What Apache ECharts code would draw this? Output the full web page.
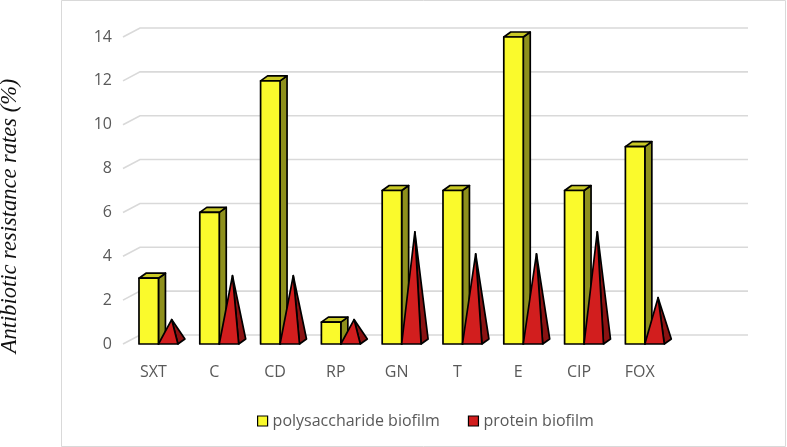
<!DOCTYPE html>
<html>
<head>
<meta charset="utf-8">
<script src="https://cdn.jsdelivr.net/npm/echarts@6/dist/echarts.min.js"></script>
<style>
  html, body { margin: 0; padding: 0; background: #fff; }
  #main { width: 787px; height: 447px; }
</style>
</head>
<body>
<div id="main"></div>
<script>
// categories (last one is the empty slot Excel leaves on the right)
const categories = ['SXT', 'C', 'CD', 'RP', 'GN', 'T', 'E', 'CIP', 'FOX', ''];
// antibiotic resistance rates (%)
const polysaccharide = [3, 6, 12, 1, 7, 7, 14, 7, 9];
const protein = [1, 3, 3, 1, 5, 4, 4, 5, 2];
const yTicks = [0, 2, 4, 6, 8, 10, 12, 14];

// depth of the fake 3d
const WALL_DX = 17, WALL_DY = -9;
const BAR_DX = 7, BAR_DY = -5;

const chart = echarts.init(document.getElementById('main'));

// back wall gridlines + the little diagonals on the left side
function renderWall(params, api) {
  const cs = params.coordSys;
  const y = api.coord([0, api.value(1)])[1];
  return {
    type: 'polyline',
    shape: { points: [[cs.x, y], [cs.x + WALL_DX, y + WALL_DY], [cs.x + cs.width + WALL_DX, y + WALL_DY]] },
    style: { stroke: '#d9d9d9', lineWidth: 1.6, fill: null }
  };
}

function barBox(api) {
  const idx = api.value(0);
  const base = api.coord([idx, 0]);
  const top = api.coord([idx, api.value(1)]);
  const bw = api.size([1, 0])[0];
  const x0 = base[0] - bw / 2 + bw * 0.263;
  const w = bw * 0.32;
  return { x0: x0, w: w, yb: base[1], yt: top[1] };
}

function renderBar(params, api) {
  const b = barBox(api);
  const line = { stroke: '#000', lineWidth: 1.7, lineJoin: 'round' };
  return {
    type: 'group',
    children: [
      { type: 'polygon', shape: { points: [[b.x0 + b.w, b.yb], [b.x0 + b.w + BAR_DX, b.yb + BAR_DY], [b.x0 + b.w + BAR_DX, b.yt + BAR_DY], [b.x0 + b.w, b.yt]] },
        style: Object.assign({ fill: '#8e901c' }, line) },
      { type: 'polygon', shape: { points: [[b.x0, b.yt], [b.x0 + BAR_DX, b.yt + BAR_DY], [b.x0 + b.w + BAR_DX, b.yt + BAR_DY], [b.x0 + b.w, b.yt]] },
        style: Object.assign({ fill: '#c9c925' }, line) },
      { type: 'rect', shape: { x: b.x0, y: b.yt, width: b.w, height: b.yb - b.yt },
        style: Object.assign({ fill: '#fafa2c' }, line) }
    ]
  };
}

function renderPyramid(params, api) {
  const b = barBox(api);
  const x0 = b.x0 + b.w; // sits right next to the yellow bar
  const w = b.w;
  const apex = [x0 + w / 2 + BAR_DX / 2, b.yt + BAR_DY / 2];
  const line = { stroke: '#000', lineWidth: 1.7, lineJoin: 'round' };
  return {
    type: 'group',
    children: [
      { type: 'polygon', shape: { points: [[x0 + w, b.yb], [x0 + w + BAR_DX, b.yb + BAR_DY], apex] },
        style: Object.assign({ fill: '#8a1212' }, line) },
      { type: 'polygon', shape: { points: [[x0, b.yb], [x0 + w, b.yb], apex] },
        style: Object.assign({ fill: '#d21e1e' }, line) }
    ]
  };
}

const axisText = { color: '#595959', fontSize: 16, fontFamily: 'Open Sans' };

const option = {
  animation: false,
  backgroundColor: '#fff',
  grid: { left: 123, right: 56, top: 37, bottom: 103 },
  xAxis: {
    type: 'category',
    data: categories,
    axisLine: { show: false },
    axisTick: { show: false },
    axisLabel: Object.assign({ margin: 20, interval: 0 }, axisText)
  },
  yAxis: {
    type: 'value',
    min: 0,
    max: 14,
    interval: 2,
    axisLine: { show: false },
    axisTick: { show: false },
    splitLine: { show: false },
    axisLabel: Object.assign({ margin: 11 }, axisText)
  },
  legend: {
    left: 252,
    top: 408,
    itemWidth: 10,
    itemHeight: 10,
    itemGap: 28,
    icon: 'rect',
    itemStyle: { borderColor: '#000', borderWidth: 1.2 },
    textStyle: axisText,
    data: ['polysaccharide biofilm', 'protein biofilm']
  },
  graphic: [
    { type: 'rect', shape: { x: 61.5, y: 0.5, width: 724, height: 446 },
      style: { fill: null, stroke: '#d9d9d9', lineWidth: 1 }, silent: true },
    { type: 'text', x: 10, y: 216, rotation: Math.PI / 2,
      style: { text: 'Antibiotic resistance rates (%)', fill: '#111', font: 'italic 22.5px "Liberation Serif"',
               align: 'center', verticalAlign: 'middle' } }
  ],
  series: [
    {
      type: 'custom',
      name: 'walls',
      silent: true,
      z: 1,
      renderItem: renderWall,
      data: yTicks.map(v => [0, v])
    },
    {
      type: 'custom',
      name: 'polysaccharide biofilm',
      z: 2,
      itemStyle: { color: '#fafa2c' },
      renderItem: renderBar,
      data: polysaccharide.map((v, i) => [i, v])
    },
    {
      type: 'custom',
      name: 'protein biofilm',
      z: 3,
      itemStyle: { color: '#d21e1e' },
      renderItem: renderPyramid,
      data: protein.map((v, i) => [i, v])
    }
  ]
};

chart.setOption(option);
</script>
</body>
</html>
